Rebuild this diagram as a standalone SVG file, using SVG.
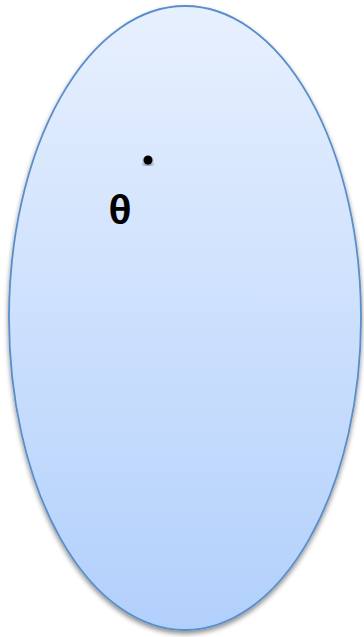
<svg xmlns="http://www.w3.org/2000/svg" width="364" height="637" viewBox="0 0 364 637">
<defs>
<linearGradient id="g" x1="0" y1="0" x2="0" y2="1">
<stop offset="0" stop-color="#e7f0fe"/>
<stop offset="1" stop-color="#b2d0fc"/>
</linearGradient>
<filter id="sh" x="-10%" y="-10%" width="120%" height="120%">
<feGaussianBlur in="SourceAlpha" stdDeviation="2.5"/>
<feOffset dx="0" dy="3" result="b"/>
<feComponentTransfer><feFuncA type="linear" slope="0.45"/></feComponentTransfer>
<feMerge><feMergeNode/><feMergeNode in="SourceGraphic"/></feMerge>
</filter>
<style>
.t{font-family:"Liberation Mono","DejaVu Sans Mono",monospace;font-weight:bold;font-size:41px;fill:#000}
</style>
</defs>
<g id="ellipse">
<ellipse cx="185" cy="318" rx="176" ry="312" fill="url(#g)" stroke="#5a8ecb" stroke-width="1.8" filter="url(#sh)"/>
</g>
<g id="point">
<circle cx="148" cy="160" r="4.5" fill="#000" filter="url(#sh)"/>
<text class="t" x="120" y="224" text-anchor="middle">θ</text>
</g>
<g id="connectors"/>
</svg>
